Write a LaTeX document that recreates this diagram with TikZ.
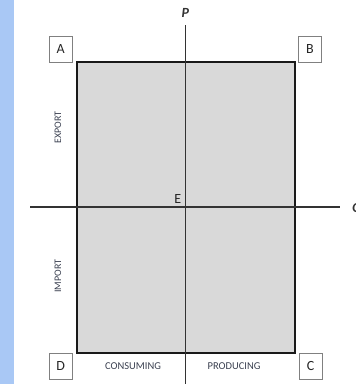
\documentclass[tikz,border=0pt]{standalone}
\usepackage{fontspec}
\setmainfont{Carlito}
\definecolor{strip}{HTML}{A9C8F5}
\definecolor{fillgray}{HTML}{D9D9D9}
\definecolor{labtxt}{HTML}{3A4050}
\begin{document}
\begin{tikzpicture}[x=1pt,y=-1pt,
  corner/.style={draw=black!50,line width=0.8pt,fill=white,minimum width=23pt,minimum height=26pt,inner sep=0pt,font=\fontsize{14}{14}\selectfont,text=black!85},
  side/.style={font=\fontsize{10}{10}\selectfont,text=labtxt,inner sep=0pt},
  axis/.style={draw=black!80,line width=1.3pt}]
\useasboundingbox (0,0) rectangle (356,384);
\fill[strip] (0,0) rectangle (14,384);
\node[draw=black!90,line width=1.8pt,fill=fillgray,minimum width=218pt,minimum height=291pt,inner sep=0pt] (R) at (185.6,207.2) {};
\coordinate (Ptop) at (185.3,25);
\coordinate (Pbot) at (185.3,384);
\coordinate (Qleft) at (30,207);
\coordinate (Qright) at (340,207);
\draw[axis] (Ptop) -- (Pbot);
\draw[axis] (Qleft) -- (Qright);
\node[font=\fontsize{14}{14}\selectfont\itshape\bfseries,text=black!80] (P) at (185.3,13) {P};
\node[font=\fontsize{14}{14}\selectfont\itshape\bfseries,text=black!80,anchor=west,inner sep=0pt] (Q) at (352,209) {Q};
\node[font=\fontsize{14}{14}\selectfont,anchor=south east,inner sep=1.5pt,text=black!85] (E) at (183,205) {E};
\node[corner] (A) at (60.7,49) {A};
\node[corner] (B) at (310,49) {B};
\node[corner] (D) at (60.7,366) {D};
\node[corner] (C) at (310.5,366) {C};
\node[side,rotate=90] (EX) at (58,127.5) {EXPORT};
\node[side,rotate=90] (IM) at (58,276) {IMPORT};
\node[side,font=\fontsize{10.5}{10.5}\selectfont] (CO) at (133,366.5) {CONSUMING};
\node[side,font=\fontsize{10.5}{10.5}\selectfont] (PR) at (234,366.5) {PRODUCING};
\end{tikzpicture}
\end{document}
